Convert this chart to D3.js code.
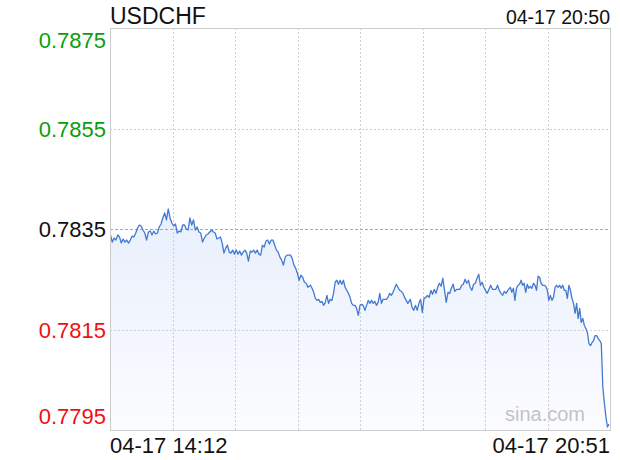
<!DOCTYPE html>
<html><head><meta charset="utf-8">
<script src="https://cdn.jsdelivr.net/npm/d3@7/dist/d3.min.js"></script>
<style>html,body{margin:0;padding:0;background:#fff;}svg{display:block;font-family:"Liberation Sans",Arial,Helvetica,sans-serif;}</style>
</head><body>
<svg id="chart" width="620" height="460"></svg>
<script>
const symbol = "USDCHF";
const stamp = "04-17 20:50";
const timeLabels = ["04-17 14:12", "04-17 20:51"];
const sessionTimes = ["14:12", "20:51"];
const yTicks = [0.7875, 0.7855, 0.7835, 0.7815, 0.7795];
const prevClose = 0.7835;
const watermark = "sina.com";
// sampled price segments, each with the time of its first and last sample
const segTimes = [["14:12", "15:30"], ["15:33", "16:50"], ["16:52", "18:10"], ["18:12", "19:30"], ["19:32", "20:51"]];
const seg1 = [
0.78338,0.78324,0.78332,0.78328,0.78338,0.78334,0.78322,0.78330,0.78324,0.78328,0.78322,0.78328,0.78336,0.78334,0.78342,0.78352,0.78358,0.78356,0.78348,0.78342,
0.78328,0.78344,0.78346,0.78338,0.78346,0.78340,0.78342,0.78354,0.78360,0.78372,0.78382,0.78368,0.78390,0.78372,0.78362,0.78356,0.78360,0.78342,0.78346,0.78344,
0.78358,0.78358,0.78350,0.78348,0.78372,0.78358,0.78368,0.78348,0.78354,0.78344,0.78342,0.78324,0.78332,0.78338,0.78340];
const seg2 = [
0.78348,0.78344,0.78342,0.78330,0.78332,0.78334,0.78322,0.78302,0.78312,0.78318,0.78304,0.78302,0.78308,0.78300,0.78308,0.78300,0.78306,0.78298,0.78304,
0.78308,0.78302,0.78286,0.78306,0.78304,0.78308,0.78302,0.78308,0.78300,0.78298,0.78318,0.78314,0.78326,0.78328,0.78320,0.78328,0.78328,0.78318,0.78308,0.78304,
0.78294,0.78288,0.78278,0.78294,0.78298,0.78298,0.78298,0.78292,0.78278,0.78272,0.78262,0.78248,0.78258,0.78254,0.78244,0.78242,0.78234];
const seg3 = [
0.78238,0.78232,0.78224,0.78212,0.78208,0.78210,0.78204,0.78206,0.78198,0.78204,0.78218,0.78202,0.78210,0.78208,0.78222,0.78244,0.78248,0.78240,0.78248,0.78240,
0.78248,0.78234,0.78228,0.78222,0.78214,0.78202,0.78198,0.78198,0.78192,0.78178,0.78198,0.78200,0.78198,0.78188,0.78198,0.78208,0.78202,0.78208,0.78202,0.78206,
0.78198,0.78204,0.78222,0.78202,0.78210,0.78210,0.78210,0.78214,0.78222,0.78218,0.78224,0.78232,0.78240,0.78234,0.78228,0.78226,0.78222,0.78214,0.78208,0.78202];
const seg4 = [
0.78210,0.78194,0.78188,0.78198,0.78188,0.78202,0.78210,0.78184,0.78212,0.78214,0.78218,0.78214,0.78228,0.78220,0.78230,0.78222,0.78234,0.78242,0.78236,0.78252,
0.78228,0.78204,0.78224,0.78222,0.78232,0.78240,0.78226,0.78230,0.78230,0.78230,0.78238,0.78240,0.78250,0.78242,0.78248,0.78234,0.78228,0.78240,0.78242,0.78252,
0.78260,0.78238,0.78244,0.78234,0.78228,0.78222,0.78230,0.78238,0.78230,0.78230,0.78230,0.78238,0.78228,0.78222,0.78218,0.78226,0.78222,0.78228];
const seg5 = [
0.78234,0.78224,0.78232,0.78208,0.78232,0.78238,0.78240,0.78248,0.78238,0.78242,0.78224,0.78240,0.78232,0.78236,0.78232,0.78242,0.78238,0.78228,0.78256,0.78254,
0.78242,0.78238,0.78238,0.78236,0.78228,0.78208,0.78218,0.78208,0.78214,0.78234,0.78238,0.78234,0.78238,0.78232,0.78238,0.78228,0.78228,0.78212,0.78238,0.78228,
0.78212,0.78202,0.78182,0.78202,0.78172,0.78192,0.78164,0.78172,0.78158,0.78152,0.78144,0.78122,0.78118,0.78124,0.78128,0.78138,0.78138,0.78132,0.78128,0.78122,
0.78035,0.78004,0.77976,0.77956,0.77962];
const segments = [seg1, seg2, seg3, seg4, seg5];

const toMin = s => { const [h, m] = s.split(":").map(Number); return h * 60 + m; };
const points = [];
segments.forEach((vals, si) => {
  const t0 = toMin(segTimes[si][0]), t1 = toMin(segTimes[si][1]);
  vals.forEach((v, i) => points.push({ t: t0 + (t1 - t0) * i / (vals.length - 1), v }));
});

const svg = d3.select("#chart");
const L = 110, R = 610, T = 28, B = 430;
const x = d3.scaleLinear().domain(sessionTimes.map(toMin)).range([L + 0.5, R - 1]);
const y = d3.scaleLinear().domain([yTicks[yTicks.length - 1], yTicks[0]]).range([B, T]);
const gridX = d3.scaleLinear().domain([0, 8]).range([L, R]);

const defs = svg.append("defs");
const grad = defs.append("linearGradient").attr("id", "fillGrad")
  .attr("gradientUnits", "userSpaceOnUse").attr("x1", 0).attr("y1", T).attr("x2", 0).attr("y2", B);
grad.append("stop").attr("offset", "0%").attr("stop-color", "#d6e3f9");
grad.append("stop").attr("offset", "45%").attr("stop-color", "#e8effc");
grad.append("stop").attr("offset", "100%").attr("stop-color", "#fbfcff");

// area fill
const area = d3.area().x(d => x(d.t)).y0(B).y1(d => y(d.v));
svg.append("path").datum(points).attr("d", area).attr("fill", "url(#fillGrad)");

// vertical grid
svg.append("g").selectAll("line").data(d3.range(1, 8)).join("line")
  .attr("x1", d => Math.round(gridX(d)) + 0.5).attr("x2", d => Math.round(gridX(d)) + 0.5)
  .attr("y1", T).attr("y2", B)
  .attr("stroke", "#cfcfcf").attr("stroke-width", 1).attr("stroke-dasharray", "2,2");

// horizontal grid
svg.append("g").selectAll("line").data(yTicks.slice(1, -1)).join("line")
  .attr("x1", L).attr("x2", R)
  .attr("y1", d => Math.round(y(d)) + 0.5).attr("y2", d => Math.round(y(d)) + 0.5)
  .attr("stroke", d => d === prevClose ? "#a8a8a8" : "#cfcfcf")
  .attr("stroke-width", 1)
  .attr("stroke-dasharray", d => d === prevClose ? "3,2" : "2,2");

// watermark
svg.append("text").attr("x", 585).attr("y", 421).attr("text-anchor", "end")
  .attr("font-size", 20).attr("fill", "#c3c3c3").text(watermark);

// line
const line = d3.line().x(d => x(d.t)).y(d => y(d.v));
svg.append("path").datum(points).attr("d", line).attr("fill", "none")
  .attr("stroke", "#4479d2").attr("stroke-width", 1.3).attr("stroke-linejoin", "round");

// frame
svg.append("rect").attr("x", L + 0.5).attr("y", T + 0.5).attr("width", R - L).attr("height", B - T)
  .attr("fill", "none").attr("stroke", "#cccccc");

// y labels
svg.append("g").selectAll("text").data(yTicks).join("text")
  .attr("x", 106).attr("text-anchor", "end")
  .attr("y", (d, i) => {
    let p = y(d);
    if (i === 0) p += 12;
    if (i === yTicks.length - 1) p -= 14;
    return p + 8;
  })
  .attr("font-size", 22)
  .attr("fill", d => d > prevClose ? "#0a9e0a" : (d < prevClose ? "#f01010" : "#111"))
  .text(d => d.toFixed(4));

// title and stamp
svg.append("text").attr("x", L).attr("y", 24).attr("font-size", 23).attr("fill", "#111").text(symbol);
svg.append("text").attr("x", R).attr("y", 24).attr("text-anchor", "end").attr("font-size", 19.5).attr("fill", "#111").text(stamp);

// time labels
svg.append("text").attr("x", L).attr("y", 453).attr("font-size", 22).attr("fill", "#111").text(timeLabels[0]);
svg.append("text").attr("x", R).attr("y", 453).attr("text-anchor", "end").attr("font-size", 22).attr("fill", "#111").text(timeLabels[1]);
</script>
</body></html>
